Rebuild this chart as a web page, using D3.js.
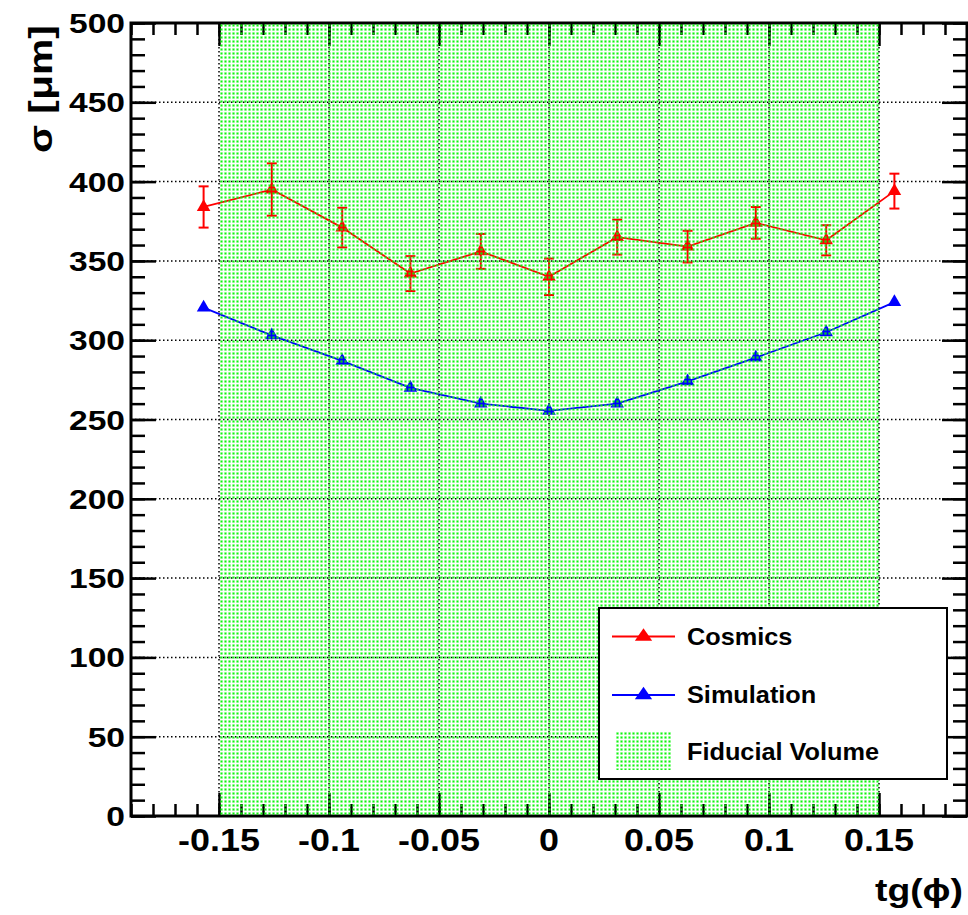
<!DOCTYPE html>
<html>
<head>
<meta charset="utf-8">
<script src="https://cdn.jsdelivr.net/npm/d3@7"></script>
<style>
  body { margin: 0; background: #fff; }
  svg { display: block; }
  text { font-family: "Liberation Sans", Arial, Helvetica, sans-serif; font-weight: bold; fill: #000; }
</style>
</head>
<body>
<svg id="chart" width="968" height="915"></svg>
<script>
// Track angle bins, tg(phi)
const tanPhi = [-0.157, -0.126, -0.094, -0.063, -0.031, 0, 0.031, 0.063, 0.094, 0.126, 0.157];
// Resolution measured with cosmic rays (um) and its statistical error
const cosmicsSigma = [384, 395, 371, 342, 356, 340, 365, 359, 374, 363, 394];
const cosmicsErr   = [13, 16.5, 12.5, 11, 11, 11.5, 11, 10, 10, 9.5, 11];
// Resolution from the simulation (um)
const simSigma = [320.5, 303, 287, 270, 260, 255.5, 260, 274, 289, 305, 324];
// Fiducial volume limits in tg(phi)
const fiducial = [-0.15, 0.15];
// Axis ticks and labels
const xMajor = [-0.15, -0.1, -0.05, 0, 0.05, 0.1, 0.15];
const xLabels = ["-0.15", "-0.1", "-0.05", "0", "0.05", "0.1", "0.15"];
const yMajor = [0, 50, 100, 150, 200, 250, 300, 350, 400, 450, 500];
const yLabels = ["0", "50", "100", "150", "200", "250", "300", "350", "400", "450", "500"];
const legendNames = ["Cosmics", "Simulation", "Fiducial Volume"];

const frame = { left: 131, top: 23, right: 967, bottom: 816 };
const x = d3.scaleLinear().domain([-0.19, 0.19]).range([frame.left, frame.right]);
const y = d3.scaleLinear().domain([0, 500]).range([frame.bottom, frame.top]);
const xMinor = d3.range(-19, 20).map(i => i / 100);
const yMinor = d3.range(0, 51).map(i => i * 10);

const svg = d3.select("#chart");
svg.append("rect").attr("width", 968).attr("height", 915).attr("fill", "#fff");

// Dotted green fill used for the fiducial band: soft dots on a see-through tile
const defs = svg.append("defs");
const pat = defs.append("pattern").attr("id", "fidDots")
  .attr("patternUnits", "userSpaceOnUse").attr("width", 4).attr("height", 4);
pat.append("rect").attr("x", 0).attr("y", 0).attr("width", 3).attr("height", 3)
  .attr("fill", "#22ff22").attr("fill-opacity", 0.24);
pat.append("rect").attr("x", 0.6).attr("y", 0.6).attr("width", 1.8).attr("height", 1.8)
  .attr("fill", "#00f000").attr("fill-opacity", 0.92);

// Grid
const grid = svg.append("g").attr("stroke", "#000").attr("stroke-width", 1.5).attr("stroke-dasharray", "1.5,2.5");
grid.selectAll("line.h").data(yMajor.filter(v => v > 0 && v < 500)).join("line").attr("class", "h")
  .attr("x1", frame.left).attr("x2", frame.right).attr("y1", d => y(d)).attr("y2", d => y(d));
grid.selectAll("line.v").data(xMajor).join("line").attr("class", "v")
  .attr("y1", frame.top).attr("y2", frame.bottom).attr("x1", d => x(d)).attr("x2", d => x(d));

// Tick marks on all four sides, pointing inwards
function ticks(axis, transform) {
  const g = svg.append("g").attr("transform", transform).call(axis);
  g.select(".domain").remove();
  g.selectAll("text").remove();
  g.selectAll("line").attr("stroke", "#000").attr("stroke-width", 2.5);
}
ticks(d3.axisBottom(x).tickValues(xMinor).tickSize(-12).tickFormat(""), `translate(0,${frame.bottom})`);
ticks(d3.axisBottom(x).tickValues(xMajor).tickSize(-23).tickFormat(""), `translate(0,${frame.bottom})`);
ticks(d3.axisTop(x).tickValues(xMinor).tickSize(-12).tickFormat(""), `translate(0,${frame.top})`);
ticks(d3.axisTop(x).tickValues(xMajor).tickSize(-23).tickFormat(""), `translate(0,${frame.top})`);
ticks(d3.axisLeft(y).tickValues(yMinor).tickSize(-14).tickFormat(""), `translate(${frame.left},0)`);
ticks(d3.axisLeft(y).tickValues(yMajor).tickSize(-25).tickFormat(""), `translate(${frame.left},0)`);
ticks(d3.axisRight(y).tickValues(yMinor).tickSize(-14).tickFormat(""), `translate(${frame.right},0)`);
ticks(d3.axisRight(y).tickValues(yMajor).tickSize(-25).tickFormat(""), `translate(${frame.right},0)`);

// Frame
svg.append("rect").attr("x", frame.left).attr("y", frame.top)
  .attr("width", frame.right - frame.left).attr("height", frame.bottom - frame.top)
  .attr("fill", "none").attr("stroke", "#000").attr("stroke-width", 3);

// Series
const idx = d3.range(tanPhi.length);
const tri = d3.symbol(d3.symbolTriangle, 80);
function series(values, color, errors) {
  const g = svg.append("g");
  g.append("path").datum(idx)
    .attr("d", d3.line().x(i => x(tanPhi[i])).y(i => y(values[i])))
    .attr("fill", "none").attr("stroke", color).attr("stroke-width", 1.8);
  if (errors) {
    const eb = g.append("g").attr("stroke", color).attr("stroke-width", 2);
    eb.selectAll("line.bar").data(idx).join("line").attr("class", "bar")
      .attr("x1", i => x(tanPhi[i])).attr("x2", i => x(tanPhi[i]))
      .attr("y1", i => y(values[i] + errors[i])).attr("y2", i => y(values[i] - errors[i]));
    eb.selectAll("line.capT").data(idx).join("line").attr("class", "capT")
      .attr("x1", i => x(tanPhi[i]) - 5).attr("x2", i => x(tanPhi[i]) + 5)
      .attr("y1", i => y(values[i] + errors[i])).attr("y2", i => y(values[i] + errors[i]));
    eb.selectAll("line.capB").data(idx).join("line").attr("class", "capB")
      .attr("x1", i => x(tanPhi[i]) - 5).attr("x2", i => x(tanPhi[i]) + 5)
      .attr("y1", i => y(values[i] - errors[i])).attr("y2", i => y(values[i] - errors[i]));
  }
  g.selectAll("path.m").data(idx).join("path").attr("class", "m")
    .attr("d", tri)
    .attr("transform", i => `translate(${x(tanPhi[i])},${y(values[i])})`)
    .attr("fill", color);
}
series(cosmicsSigma, "#ff0000", cosmicsErr);
series(simSigma, "#0000ff", null);

// Fiducial band, drawn over the graphs
svg.append("rect")
  .attr("x", x(fiducial[0])).attr("width", x(fiducial[1]) - x(fiducial[0]))
  .attr("y", y(500)).attr("height", y(0) - y(500))
  .attr("fill", "url(#fidDots)");

// Tick labels
svg.append("g").selectAll("text").data(xMajor).join("text")
  .attr("text-anchor", "middle").attr("font-size", 31.5)
  .attr("transform", d => `translate(${x(d)},851) scale(1.14,1)`)
  .text((d, i) => xLabels[i]);
svg.append("g").selectAll("text").data(yMajor).join("text")
  .attr("text-anchor", "end").attr("font-size", 28)
  .attr("transform", d => `translate(125,${y(d) + 10}) scale(1.2,1)`)
  .text((d, i) => yLabels[i]);

// Axis titles
svg.append("text").attr("font-size", 34)
  .attr("transform", "translate(51.5,153) rotate(-90)")
  .attr("textLength", 128).attr("lengthAdjust", "spacingAndGlyphs")
  .text("σ [μm]");
svg.append("text").attr("font-size", 32)
  .attr("x", 875).attr("y", 901)
  .attr("textLength", 88).attr("lengthAdjust", "spacingAndGlyphs")
  .text("tg(ϕ)");

// Legend
const leg = svg.append("g");
leg.append("rect").attr("x", 599).attr("y", 608).attr("width", 348).attr("height", 171)
  .attr("fill", "#fff").attr("stroke", "#000").attr("stroke-width", 2);
const legY = [636.5, 695, 751.5];
const legColors = ["#ff0000", "#0000ff"];
legColors.forEach((c, i) => {
  leg.append("line").attr("x1", 612).attr("x2", 675).attr("y1", legY[i]).attr("y2", legY[i])
    .attr("stroke", c).attr("stroke-width", 1.8);
  leg.append("path").attr("d", d3.symbol(d3.symbolTriangle, 90)())
    .attr("transform", `translate(643.5,${legY[i]}) scale(1.2,1)`).attr("fill", c);
});
leg.append("rect").attr("x", 615).attr("y", 732).attr("width", 56).attr("height", 38)
  .attr("fill", "url(#fidDots)");
leg.selectAll("text").data(legendNames).join("text")
  .attr("font-size", 23)
  .attr("transform", (d, i) => `translate(687,${legY[i] + 8.3}) scale(1.1,1)`)
  .text(d => d);
</script>
</body>
</html>
